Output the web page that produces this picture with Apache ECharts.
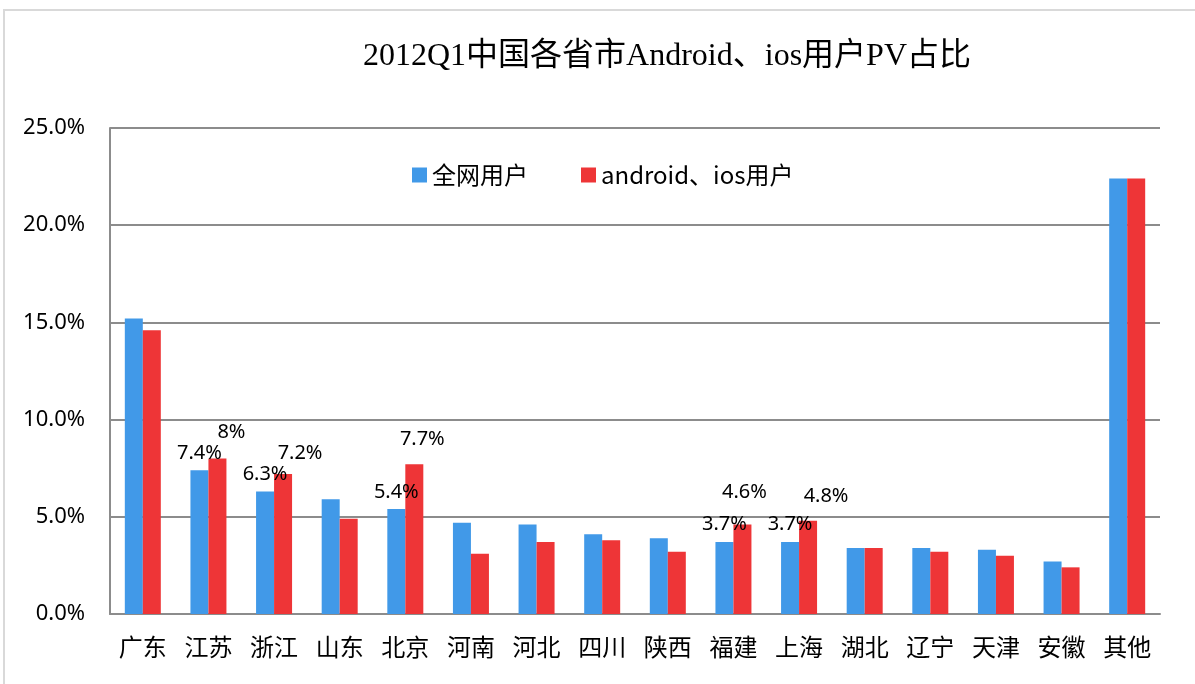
<!DOCTYPE html>
<html>
<head>
<meta charset="utf-8">
<script src="https://cdn.jsdelivr.net/npm/echarts@6/dist/echarts.min.js"></script>
<style>
  html, body { margin: 0; padding: 0; background: #fff; }
  #chart { width: 1195px; height: 684px; }
</style>
</head>
<body>
<div id="chart"></div>
<script>
var provinces = ['广东', '江苏', '浙江', '山东', '北京', '河南', '河北', '四川', '陕西', '福建', '上海', '湖北', '辽宁', '天津', '安徽', '其他'];
var allUsers = [15.2, 7.4, 6.3, 5.9, 5.4, 4.7, 4.6, 4.1, 3.9, 3.7, 3.7, 3.4, 3.4, 3.3, 2.7, 22.4];
var mobileUsers = [14.6, 8.0, 7.2, 4.9, 7.7, 3.1, 3.7, 3.8, 3.2, 4.6, 4.8, 3.4, 3.2, 3.0, 2.4, 22.4];
var yTicks = [0, 5, 10, 15, 20, 25];

// which bars carry a value label, with the nudge used in the original
var allLabels = { 1: [0, -2], 2: [0, -2], 4: [0, -2], 9: [0, -3], 10: [0, -3] };
var mobileLabels = { 1: [14, -11], 2: [17, -6], 4: [8, -10], 9: [2, -17], 10: [18, -9] };

function makeData(values, labels, fmt) {
  return values.map(function (v, i) {
    var item = { value: v };
    if (labels[i]) {
      item.label = { show: true, position: 'top', offset: labels[i], formatter: fmt(v) };
    }
    return item;
  });
}

var chart = echarts.init(document.getElementById('chart'));
chart.setOption({
  animation: false,
  backgroundColor: '#fff',
  graphic: [{
    type: 'rect',
    shape: { x: 4, y: 10, width: 1200, height: 700 },
    style: { fill: 'none', stroke: '#d9d9d9', lineWidth: 2 }
  }],
  title: {
    text: '2012Q1中国各省市Android、ios用户PV占比',
    left: 662, top: 36, textAlign: 'center',
    textStyle: { fontFamily: 'Liberation Serif, Noto Sans CJK SC', fontSize: 32, fontWeight: 'normal', color: '#000' }
  },
  legend: {
    data: ['全网用户', 'android、ios用户'],
    left: 407, top: 158,
    itemWidth: 15, itemHeight: 15, itemGap: 53,
    icon: 'rect',
    textStyle: { fontFamily: 'Noto Sans CJK SC', fontSize: 24, color: '#000' }
  },
  grid: { left: 110, right: 35, top: 128, bottom: 70 },
  xAxis: {
    type: 'category',
    data: provinces,
    axisLine: { lineStyle: { color: '#8c8c8c', width: 2 } },
    axisTick: { show: false },
    axisLabel: { fontFamily: 'Noto Sans CJK SC', fontSize: 24, color: '#000', margin: 21 }
  },
  yAxis: {
    type: 'value',
    min: 0, max: 25, interval: 5,
    axisLine: { show: true, lineStyle: { color: '#8c8c8c', width: 2 } },
    axisTick: { show: false },
    splitLine: { lineStyle: { color: '#8c8c8c', width: 2 } },
    axisLabel: {
      fontFamily: 'Noto Sans, DejaVu Sans', fontSize: 22, color: '#000', margin: 25,
      formatter: function (v) { return yTicks.indexOf(v) >= 0 ? v.toFixed(1) + '%' : ''; }
    }
  },
  series: [
    {
      name: '全网用户', type: 'bar', barWidth: 18, barGap: '0%',
      itemStyle: { color: '#4199e8' },
      label: { fontFamily: 'Noto Sans, DejaVu Sans', fontSize: 20, color: '#000' },
      data: makeData(allUsers, allLabels, function (v) { return v + '%'; })
    },
    {
      name: 'android、ios用户', type: 'bar', barWidth: 18,
      itemStyle: { color: '#ee3537' },
      label: { fontFamily: 'Noto Sans, DejaVu Sans', fontSize: 20, color: '#000' },
      data: makeData(mobileUsers, mobileLabels, function (v) { return (v % 1 === 0 ? v.toFixed(0) : v) + '%'; })
    }
  ]
});
</script>
</body>
</html>
